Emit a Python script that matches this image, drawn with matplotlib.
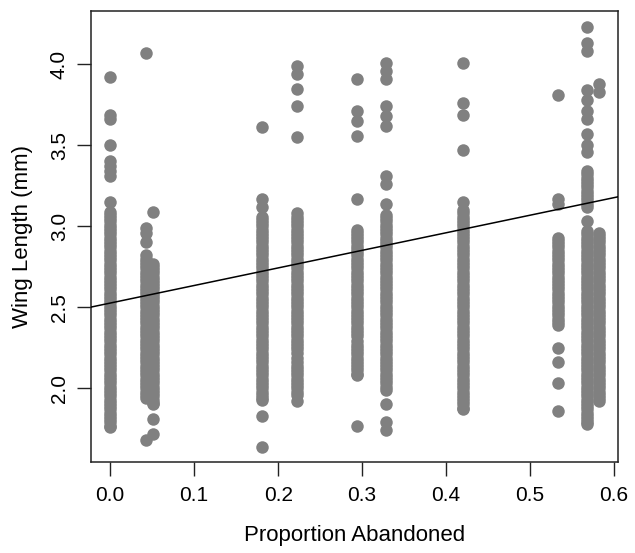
import matplotlib
matplotlib.use("Agg")
import matplotlib.pyplot as plt

# Proportion abandoned for each sampled group (x positions of the point columns)
prop_abandoned = [0.0, 0.0429, 0.0516, 0.1813, 0.2230, 0.2940, 0.3282, 0.4199, 0.5337, 0.5675, 0.5820]

# Wing lengths (mm) read for each column
wing_000 = [3.92, 3.69, 3.66, 3.50, 3.40, 3.37, 3.34, 3.31, 3.15,
            3.09, 3.07, 3.05, 3.03, 3.01, 2.99, 2.97, 2.95, 2.93, 2.91, 2.89, 2.87, 2.85, 2.83,
            2.81, 2.79, 2.77, 2.75, 2.73, 2.71, 2.69, 2.67, 2.65, 2.63, 2.61, 2.59, 2.57, 2.55,
            2.53, 2.51, 2.49, 2.47, 2.45, 2.43, 2.41, 2.39, 2.37, 2.35, 2.33, 2.31, 2.29, 2.27,
            2.25, 2.23, 2.21, 2.19, 2.17, 2.15, 2.13, 2.11, 2.09, 2.07, 2.05, 2.03, 2.01, 1.99,
            1.97, 1.95, 1.93, 1.91, 1.89, 1.87, 1.85, 1.83, 1.81, 1.79, 1.77, 1.76]
wing_043 = [4.07, 2.99, 2.96, 2.90, 2.82, 2.80, 2.78, 2.76, 2.74, 2.72, 2.70, 2.68, 2.66, 2.64,
            2.62, 2.60, 2.58, 2.56, 2.54, 2.52, 2.50, 2.48, 2.46, 2.44, 2.42, 2.40, 2.38, 2.36,
            2.34, 2.32, 2.30, 2.28, 2.26, 2.24, 2.22, 2.20, 2.18, 2.16, 2.14, 2.12, 2.10, 2.08,
            2.06, 2.04, 2.02, 2.00, 1.98, 1.96, 1.94, 1.68]
wing_052 = [3.09, 2.77, 2.75, 2.73, 2.71, 2.69, 2.67, 2.65, 2.63, 2.61, 2.59, 2.57, 2.55, 2.53,
            2.51, 2.49, 2.47, 2.45, 2.43, 2.41, 2.39, 2.37, 2.35, 2.33, 2.31, 2.29, 2.27, 2.25,
            2.23, 2.21, 2.19, 2.17, 2.15, 2.13, 2.11, 2.09, 2.07, 2.05, 2.03, 2.01, 1.99, 1.97,
            1.95, 1.93, 1.91, 1.90, 1.81, 1.72]
wing_181 = [3.61, 3.17, 3.12, 3.06, 3.04, 3.02, 3.00, 2.98, 2.96, 2.94, 2.92, 2.90, 2.88, 2.86,
            2.84, 2.82, 2.80, 2.78, 2.76, 2.74, 2.72, 2.70, 2.68, 2.66, 2.64, 2.62, 2.60, 2.58,
            2.56, 2.54, 2.52, 2.50, 2.48, 2.46, 2.44, 2.42, 2.40, 2.38, 2.36, 2.34, 2.32, 2.30,
            2.28, 2.26, 2.24, 2.22, 2.20, 2.18, 2.16, 2.14, 2.12, 2.10, 2.08, 2.06, 2.04, 2.02,
            2.00, 1.98, 1.96, 1.94, 1.93, 1.83, 1.64]
wing_223 = [3.99, 3.94, 3.85, 3.74, 3.55, 3.08, 3.06, 3.04, 3.02, 3.00, 2.98, 2.96, 2.94, 2.92,
            2.90, 2.88, 2.86, 2.84, 2.82, 2.80, 2.78, 2.76, 2.74, 2.72, 2.70, 2.68, 2.66, 2.64,
            2.62, 2.60, 2.58, 2.56, 2.54, 2.52, 2.50, 2.48, 2.46, 2.44, 2.42, 2.40, 2.38, 2.36,
            2.34, 2.32, 2.30, 2.28, 2.26, 2.24, 2.22, 2.19, 2.16, 2.14, 2.12, 2.10, 2.08, 2.06,
            2.04, 2.02, 2.00, 1.98, 1.96, 1.92]
wing_294 = [3.91, 3.71, 3.65, 3.56, 3.17, 2.98, 2.96, 2.94, 2.92, 2.90, 2.88, 2.86, 2.84, 2.82,
            2.80, 2.78, 2.76, 2.74, 2.72, 2.70, 2.68, 2.66, 2.64, 2.62, 2.60, 2.58, 2.56, 2.54,
            2.52, 2.50, 2.48, 2.46, 2.44, 2.42, 2.40, 2.38, 2.36, 2.34, 2.32, 2.29, 2.27, 2.25,
            2.23, 2.21, 2.19, 2.17, 2.15, 2.13, 2.11, 2.09, 2.08, 1.77]
wing_328 = [4.01, 3.96, 3.91, 3.74, 3.68, 3.62, 3.31, 3.26, 3.14, 3.07, 3.05, 3.03, 3.01, 2.99,
            2.97, 2.95, 2.93, 2.91, 2.89, 2.87, 2.85, 2.83, 2.81, 2.79, 2.77, 2.75, 2.73, 2.71,
            2.69, 2.67, 2.65, 2.63, 2.61, 2.59, 2.57, 2.55, 2.53, 2.51, 2.49, 2.47, 2.45, 2.43,
            2.41, 2.39, 2.37, 2.35, 2.33, 2.31, 2.29, 2.27, 2.25, 2.23, 2.21, 2.19, 2.17, 2.15,
            2.13, 2.11, 2.09, 2.07, 2.05, 2.03, 2.01, 1.99, 1.90, 1.79, 1.74]
wing_420 = [4.01, 3.76, 3.69, 3.47, 3.15, 3.10, 3.08, 3.06, 3.04, 3.02, 3.00, 2.98, 2.96, 2.94,
            2.92, 2.90, 2.88, 2.86, 2.84, 2.82, 2.80, 2.78, 2.76, 2.74, 2.72, 2.70, 2.68, 2.66,
            2.64, 2.62, 2.60, 2.58, 2.56, 2.54, 2.52, 2.50, 2.48, 2.46, 2.44, 2.42, 2.40, 2.38,
            2.36, 2.34, 2.32, 2.30, 2.28, 2.26, 2.24, 2.22, 2.20, 2.18, 2.16, 2.14, 2.12, 2.10,
            2.08, 2.06, 2.04, 2.02, 2.00, 1.98, 1.96, 1.94, 1.92, 1.90, 1.88, 1.87]
wing_534 = [3.81, 3.17, 3.14, 2.93, 2.91, 2.89, 2.87, 2.85, 2.83, 2.81, 2.79, 2.77, 2.75, 2.73,
            2.71, 2.69, 2.67, 2.65, 2.63, 2.61, 2.59, 2.57, 2.55, 2.53, 2.51, 2.49, 2.47, 2.45,
            2.43, 2.41, 2.39, 2.25, 2.16, 2.03, 1.86]
wing_568 = [4.23, 4.13, 4.08, 3.84, 3.78, 3.71, 3.66, 3.57, 3.50, 3.46, 3.34, 3.32, 3.30, 3.28,
            3.26, 3.24, 3.22, 3.20, 3.18, 3.16, 3.14, 3.12, 3.03, 2.97, 2.95, 2.93, 2.91, 2.89,
            2.87, 2.85, 2.83, 2.81, 2.79, 2.77, 2.75, 2.73, 2.71, 2.69, 2.67, 2.65, 2.63, 2.61,
            2.59, 2.57, 2.55, 2.53, 2.51, 2.49, 2.47, 2.45, 2.43, 2.41, 2.39, 2.37, 2.35, 2.33,
            2.31, 2.29, 2.27, 2.25, 2.23, 2.21, 2.19, 2.17, 2.15, 2.13, 2.11, 2.09, 2.07, 2.05,
            2.03, 2.01, 1.99, 1.97, 1.95, 1.93, 1.91, 1.89, 1.87, 1.85, 1.83, 1.81, 1.79, 1.78]
wing_582 = [3.88, 3.83, 2.96, 2.94, 2.92, 2.90, 2.88, 2.86, 2.84, 2.82, 2.80, 2.78, 2.76, 2.74,
            2.72, 2.70, 2.68, 2.66, 2.64, 2.62, 2.60, 2.58, 2.56, 2.54, 2.52, 2.50, 2.48, 2.46,
            2.44, 2.42, 2.40, 2.38, 2.36, 2.34, 2.32, 2.30, 2.28, 2.26, 2.24, 2.22, 2.20, 2.18,
            2.16, 2.14, 2.12, 2.10, 2.08, 2.06, 2.04, 2.02, 2.00, 1.98, 1.96, 1.94, 1.92]

wing_groups = [wing_000, wing_043, wing_052, wing_181, wing_223, wing_294,
               wing_328, wing_420, wing_534, wing_568, wing_582]

# Fitted regression line (intercept, slope)
fit_intercept = 2.526
fit_slope = 1.085

x_ticks = [0.0, 0.1, 0.2, 0.3, 0.4, 0.5, 0.6]
x_tick_labels = ["0.0", "0.1", "0.2", "0.3", "0.4", "0.5", "0.6"]
y_ticks = [2.0, 2.5, 3.0, 3.5, 4.0]
y_tick_labels = ["2.0", "2.5", "3.0", "3.5", "4.0"]

plt.rcParams['font.family'] = ['Liberation Sans', 'DejaVu Sans']

fig = plt.figure(figsize=(6.35, 5.53), dpi=100)
ax = fig.add_axes([91 / 635, 1 - 462 / 553, (618.3 - 91) / 635, (462 - 11) / 553])

for xv, ys in zip(prop_abandoned, wing_groups):
    ax.plot([xv] * len(ys), ys, linestyle='none', marker='o', markersize=9.0,
            markerfacecolor='#808080', markeredgewidth=0, zorder=2)

xlo, xhi = -0.0228, 0.6050
ax.set_xlim(xlo, xhi)
ax.set_ylim(1.545, 4.329)
ax.plot([xlo, xhi], [fit_intercept + fit_slope * xlo, fit_intercept + fit_slope * xhi],
        color='black', linewidth=1.1, zorder=3)

ax.set_xticks(x_ticks)
ax.set_xticklabels(x_tick_labels)
ax.set_yticks(y_ticks)
ax.set_yticklabels(y_tick_labels, rotation=90, va='center')

ax.tick_params(axis='both', direction='out', length=10, width=1.0, labelsize=15,
               color='#222222', labelcolor='black')
ax.tick_params(axis='x', pad=7.5)
ax.tick_params(axis='y', pad=6)
for sp in ax.spines.values():
    sp.set_linewidth(1.1)
    sp.set_color('#222222')

ax.set_xlabel('Proportion Abandoned', fontsize=16, labelpad=14)
ax.set_ylabel('Wing Length (mm)', fontsize=16, labelpad=12)

fig.savefig('out.png', dpi=100)
